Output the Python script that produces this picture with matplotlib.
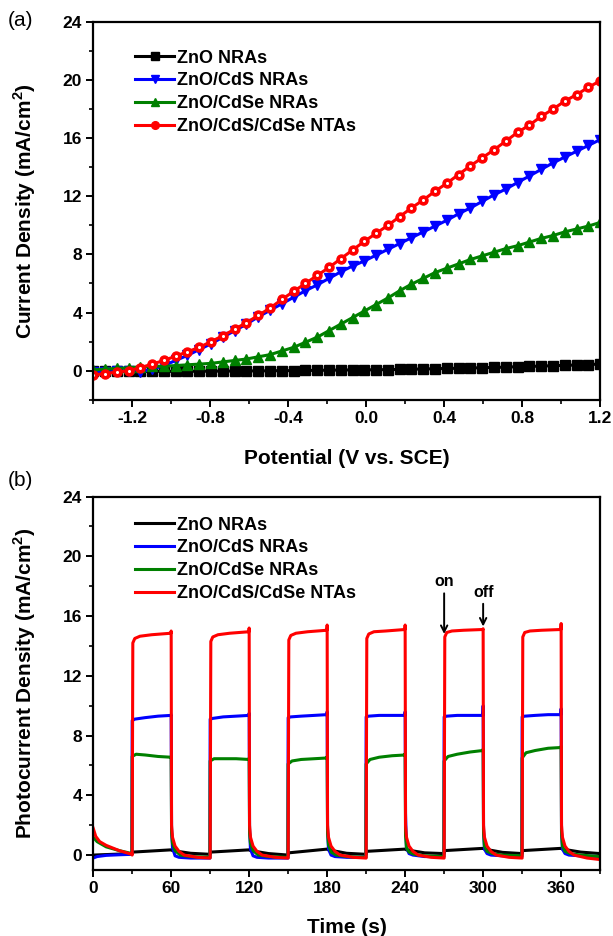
import numpy as np
import matplotlib
matplotlib.use('Agg')
import matplotlib.pyplot as plt
from matplotlib.ticker import MultipleLocator

plt.rcParams['font.family'] = ['Liberation Sans', 'DejaVu Sans']
plt.rcParams['font.weight'] = 'bold'
plt.rcParams['mathtext.fontset'] = 'custom'
plt.rcParams['mathtext.rm'] = 'Liberation Sans:bold'
plt.rcParams['mathtext.bf'] = 'Liberation Sans:bold'

LABELS = ['ZnO NRAs', 'ZnO/CdS NRAs', 'ZnO/CdSe NRAs', 'ZnO/CdS/CdSe NTAs']
COLORS = ['black', '#0000ff', '#008000', '#ff0000']

# ---- (a) linear sweep: potential grid of the markers
potential = np.linspace(-1.4, 1.2, 44)

j_zno = [-0.05, -0.05, -0.05, -0.05, -0.05, -0.05, -0.05, -0.05, -0.05, -0.04,
         -0.04, -0.03, -0.03, -0.02, -0.02, -0.01, 0.0, 0.0, 0.01, 0.02,
         0.03, 0.04, 0.05, 0.05, 0.06, 0.07, 0.08, 0.1, 0.11, 0.13,
         0.15, 0.16, 0.18, 0.2, 0.22, 0.24, 0.27, 0.29, 0.31, 0.34,
         0.36, 0.39, 0.42, 0.45]
j_cds = [-0.1, -0.1, -0.05, 0.0, -0.1, 0.1, 0.35, 0.7, 1.05, 1.45,
         1.85, 2.3, 2.75, 3.2, 3.7, 4.15, 4.6, 5.05, 5.5, 5.9,
         6.35, 6.8, 7.2, 7.55, 7.95, 8.35, 8.75, 9.15, 9.55, 9.95,
         10.35, 10.8, 11.2, 11.65, 12.1, 12.5, 12.95, 13.4, 13.85, 14.3,
         14.7, 15.1, 15.5, 15.9]
j_cdse = [0.05, 0.1, 0.15, 0.2, 0.25, 0.3, 0.3, 0.35, 0.4, 0.45,
          0.5, 0.6, 0.7, 0.8, 0.95, 1.1, 1.35, 1.6, 1.95, 2.3,
          2.75, 3.2, 3.65, 4.1, 4.55, 5.0, 5.5, 5.95, 6.35, 6.75,
          7.05, 7.35, 7.65, 7.9, 8.15, 8.4, 8.6, 8.85, 9.1, 9.3,
          9.55, 9.75, 9.95, 10.2]
j_cosens = [-0.3, -0.2, -0.1, 0.0, 0.2, 0.45, 0.7, 1.0, 1.3, 1.6,
            2.0, 2.4, 2.85, 3.3, 3.8, 4.3, 4.9, 5.45, 6.0, 6.55,
            7.1, 7.7, 8.3, 8.9, 9.45, 10.0, 10.6, 11.2, 11.75, 12.35,
            12.9, 13.5, 14.1, 14.65, 15.2, 15.8, 16.4, 16.9, 17.5, 18.0,
            18.55, 19.0, 19.5, 19.95]

# ---- (b) chopped light transients (light on 30-60, 90-120, ...)
t_zno = [0, 30, 30.5, 60, 61, 75, 90, 90.5, 120, 121, 135, 150, 150.5, 180, 181, 195, 210,
         210.5, 240, 241, 255, 270, 270.5, 300, 301, 315, 330, 330.5, 360, 361, 375, 390]
i_zno = [0.0, 0.1, 0.2, 0.35, 0.3, 0.12, 0.05, 0.2, 0.35, 0.3, 0.1, 0.0, 0.15, 0.4, 0.35, 0.12,
         0.05, 0.25, 0.4, 0.35, 0.15, 0.1, 0.3, 0.45, 0.4, 0.18, 0.1, 0.3, 0.45, 0.4, 0.2, 0.1]

t_cds = [0, 3, 10, 20, 29.8, 30, 32, 40, 50, 59.8, 60, 60.3, 61, 63, 66, 75, 89.8,
         90, 92, 100, 110, 119.8, 120, 120.3, 121, 123, 126, 135, 149.8,
         150, 152, 160, 170, 179.8, 180, 180.3, 181, 183, 186, 195, 209.8,
         210, 212, 220, 230, 239.8, 240, 240.3, 241, 243, 246, 255, 269.8,
         270, 272, 280, 290, 299.8, 300, 300.3, 301, 303, 306, 315, 329.8,
         330, 332, 340, 350, 359.8, 360, 360.3, 361, 363, 366, 375, 390]
i_cds = [-0.2, -0.1, -0.02, 0.02, 0.05, 9.0, 9.1, 9.2, 9.3, 9.35, 9.4, 1.8, 0.5, -0.05, -0.15, -0.2, -0.2,
         9.1, 9.15, 9.25, 9.3, 9.35, 9.5, 1.8, 0.4, -0.05, -0.15, -0.2, -0.2,
         9.2, 9.25, 9.3, 9.35, 9.4, 9.6, 1.8, 0.4, 0.0, -0.1, -0.15, -0.15,
         9.25, 9.3, 9.35, 9.35, 9.35, 9.6, 2.8, 0.5, 0.1, 0.0, -0.1, -0.1,
         9.25, 9.3, 9.35, 9.35, 9.35, 10.0, 1.8, 0.4, 0.1, 0.0, -0.05, -0.1,
         9.25, 9.3, 9.35, 9.4, 9.4, 9.8, 1.6, 0.4, 0.1, 0.0, -0.05, -0.1]

t_cdse = [0, 3, 10, 20, 29.8, 30, 33, 40, 50, 59.8, 60, 60.3, 61, 63, 67, 75, 89.8,
          90, 93, 100, 110, 119.8, 120, 120.3, 121, 123, 127, 135, 149.8,
          150, 153, 160, 170, 179.8, 180, 180.3, 181, 183, 187, 195, 209.8,
          210, 213, 220, 230, 239.8, 240, 240.3, 241, 243, 247, 255, 269.8,
          270, 273, 280, 290, 299.8, 300, 300.3, 301, 303, 307, 315, 329.8,
          330, 333, 340, 350, 359.8, 360, 360.3, 361, 363, 367, 375, 390]
i_cdse = [1.2, 0.9, 0.55, 0.3, 0.1, 6.6, 6.75, 6.7, 6.6, 6.55, 6.6, 1.5, 0.8, 0.3, 0.0, -0.1, -0.15,
          6.3, 6.45, 6.45, 6.45, 6.4, 6.5, 1.5, 0.8, 0.3, 0.0, -0.1, -0.15,
          6.1, 6.3, 6.4, 6.45, 6.5, 6.6, 1.5, 0.7, 0.2, 0.0, -0.1, -0.15,
          6.1, 6.4, 6.55, 6.65, 6.7, 6.8, 1.3, 0.5, 0.2, 0.05, -0.05, -0.1,
          6.3, 6.6, 6.75, 6.9, 7.0, 7.1, 1.5, 0.6, 0.25, 0.1, 0.0, -0.05,
          6.5, 6.85, 7.0, 7.15, 7.2, 7.3, 1.5, 0.6, 0.25, 0.1, 0.0, -0.1]

t_cosens = [0, 2, 5, 10, 20, 29.8, 30, 30.5, 32, 36, 45, 59.8, 60, 60.3, 61, 63, 66, 70, 80, 89.8,
            90, 90.5, 92, 96, 105, 119.8, 120, 120.3, 121, 123, 126, 130, 140, 149.8,
            150, 150.5, 152, 156, 165, 179.8, 180, 180.3, 181, 183, 186, 190, 200, 209.8,
            210, 210.5, 212, 216, 225, 239.8, 240, 240.3, 241, 243, 246, 250, 260, 269.8,
            270, 270.5, 272, 276, 285, 299.8, 300, 300.3, 301, 303, 306, 310, 320, 329.8,
            330, 330.5, 332, 336, 345, 359.8, 360, 360.3, 361, 363, 366, 370, 380, 390]
i_cosens = [1.8, 1.25, 0.9, 0.65, 0.3, 0.05, 0.0, 14.2, 14.5, 14.65, 14.75, 14.85, 15.0, 2.0, 1.2, 0.6, 0.25, 0.0, -0.15, -0.2,
            -0.2, 14.3, 14.6, 14.75, 14.85, 14.95, 15.2, 2.0, 1.2, 0.6, 0.25, 0.0, -0.15, -0.2,
            -0.2, 14.4, 14.7, 14.85, 14.95, 15.05, 15.4, 2.0, 1.2, 0.6, 0.25, 0.0, -0.15, -0.2,
            -0.2, 14.5, 14.8, 14.95, 15.0, 15.1, 15.4, 2.0, 1.2, 0.6, 0.25, 0.0, -0.15, -0.2,
            -0.2, 14.6, 14.9, 15.0, 15.05, 15.1, 15.15, 2.0, 1.2, 0.6, 0.25, 0.0, -0.15, -0.2,
            -0.2, 14.6, 14.9, 15.0, 15.05, 15.1, 15.5, 2.0, 1.2, 0.6, 0.25, 0.0, -0.2, -0.3]


def style_axes(ax):
    for sp in ax.spines.values():
        sp.set_linewidth(1.6)
    ax.tick_params(which='major', direction='out', length=5, width=1.4, labelsize=12.5, pad=3)
    ax.tick_params(which='minor', direction='out', length=3, width=1.2)
    for lab in ax.get_xticklabels() + ax.get_yticklabels():
        lab.set_fontweight('bold')


fig = plt.figure(figsize=(6.13, 9.36), dpi=100)
ax1 = fig.add_axes([0.152, 0.573, 0.827, 0.4035])
ax2 = fig.add_axes([0.152, 0.0705, 0.827, 0.399])

# (a)
markers = ['s', 'v', '^', 'o']
series_a = [j_zno, j_cds, j_cdse, j_cosens]
for ys, c, m, lab in zip(series_a, COLORS, markers, LABELS):
    ax1.plot(potential, ys, color=c, lw=2.2, marker=m, ms=6.5, mec=c, mfc=c, label=lab)
ax1.plot(potential, j_cosens, ls='none', marker='o', ms=1.2, mfc='white', mec='white')
ax1.set_xlim(-1.4, 1.2)
ax1.set_ylim(-2, 24)
ax1.xaxis.set_major_locator(MultipleLocator(0.4))
ax1.xaxis.set_minor_locator(MultipleLocator(0.2))
ax1.yaxis.set_major_locator(MultipleLocator(4))
ax1.yaxis.set_minor_locator(MultipleLocator(2))
ax1.set_xticks([-1.2, -0.8, -0.4, 0.0, 0.4, 0.8, 1.2])
ax1.set_xticklabels(['-1.2', '-0.8', '-0.4', '0.0', '0.4', '0.8', '1.2'])
ax1.set_xlabel('Potential (V vs. SCE)', fontsize=15, fontweight='bold', labelpad=17)
ax1.set_ylabel(r'Current Density (mA/cm$^2$)', fontsize=15, fontweight='bold', labelpad=18)
leg = ax1.legend(loc='upper left', bbox_to_anchor=(0.05, 0.97), frameon=False, fontsize=13,
                 handlelength=2.2, handletextpad=0.15, labelspacing=0.32, markerscale=0.85)
style_axes(ax1)
fig.text(0.012, 0.978, '(a)', fontsize=15, fontweight='normal', va='center')

# (b)
series_b = [(t_zno, i_zno), (t_cds, i_cds), (t_cdse, i_cdse), (t_cosens, i_cosens)]
for (ts, ys), c, lab in zip(series_b, COLORS, LABELS):
    ax2.plot(ts, ys, color=c, lw=2.2, label=lab)
ax2.set_xlim(0, 390)
ax2.set_ylim(-1, 24)
ax2.xaxis.set_major_locator(MultipleLocator(60))
ax2.xaxis.set_minor_locator(MultipleLocator(30))
ax2.yaxis.set_major_locator(MultipleLocator(4))
ax2.yaxis.set_minor_locator(MultipleLocator(2))
ax2.set_xlabel('Time (s)', fontsize=15, fontweight='bold', labelpad=16)
ax2.set_ylabel(r'Photocurrent Density (mA/cm$^2$)', fontsize=15, fontweight='bold', labelpad=18)
ax2.legend(loc='upper left', bbox_to_anchor=(0.05, 0.99), frameon=False, fontsize=13,
           handlelength=2.2, handletextpad=0.15, labelspacing=0.32)
ax2.annotate('on', xy=(270, 14.8), xytext=(270, 17.8), ha='center', va='bottom',
             fontsize=11.5, fontweight='bold',
             arrowprops=dict(arrowstyle='->', color='black', lw=1.4, shrinkA=1, shrinkB=0))
ax2.annotate('off', xy=(300, 15.3), xytext=(300, 17.1), ha='center', va='bottom',
             fontsize=11.5, fontweight='bold',
             arrowprops=dict(arrowstyle='->', color='black', lw=1.4, shrinkA=1, shrinkB=0))
style_axes(ax2)
fig.text(0.012, 0.487, '(b)', fontsize=15, fontweight='normal', va='center')

fig.savefig('out.png', dpi=100)
